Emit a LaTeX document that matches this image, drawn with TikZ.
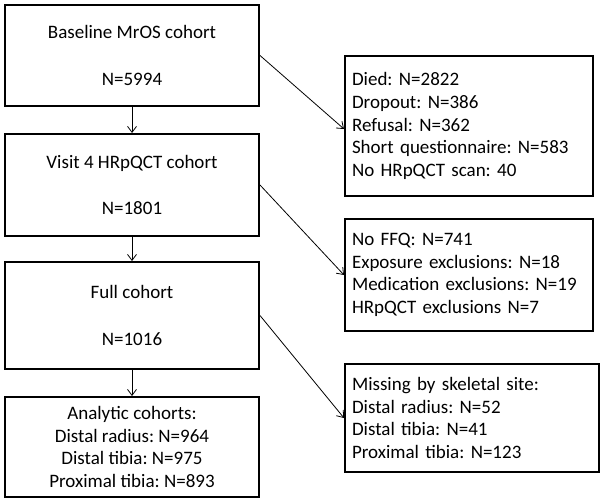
\documentclass[tikz,border=0pt]{standalone}
\usepackage{fontspec}
\setmainfont{Carlito}
\frenchspacing
\usetikzlibrary{arrows.meta}
\begin{document}
\begin{tikzpicture}[x=1pt,y=-1pt,
  every node/.style={font=\fontsize{19pt}{22.7pt}\selectfont},
  lbox/.style={draw, line width=2pt, minimum width=254pt, align=center, inner sep=0pt},
  rbox/.style={draw, line width=2pt, align=left, inner xsep=7pt, inner ysep=0pt, anchor=west},
  conn/.style={line width=0.8pt, -{Straight Barb[length=6pt,width=9pt]}}]
\useasboundingbox (0,0) rectangle (604,503);
\node[lbox, minimum height=101pt] (b1) at (132,55.5) {\frenchspacing Baseline MrOS cohort\\[24pt]N=5994};
\node[lbox, minimum height=102pt] (b2) at (132,185) {\frenchspacing Visit 4 HRpQCT cohort\\[24pt]N=1801};
\node[lbox, minimum height=107pt] (b3) at (132,315.5) {\frenchspacing Full cohort\\[24pt]N=1016};
\node[lbox, minimum height=100pt] (b4) at (132,447) {\frenchspacing Analytic cohorts:\\Distal radius: N=964\\Distal tibia: N=975\\Proximal tibia: N=893};
\node[rbox, minimum height=140pt, text width=234pt] (r1) at (344,126) {\frenchspacing Died: N=2822\\Dropout: N=386\\Refusal: N=362\\Short questionnaire: N=583\\No HRpQCT scan: 40};
\node[rbox, minimum height=112pt, text width=234pt] (r2) at (344,275) {\frenchspacing No FFQ: N=741\\Exposure exclusions: N=18\\Medication exclusions: N=19\\HRpQCT exclusions N=7};
\node[rbox, minimum height=108pt, text width=240pt] (r3) at (344,418) {\frenchspacing Missing by skeletal site:\\Distal radius: N=52\\Distal tibia: N=41\\Proximal tibia: N=123};
\draw[conn] (b1.south) -- (b2.north);
\draw[conn] (b2.south) -- (b3.north);
\draw[conn] (b3.south) -- (b4.north);
\draw[conn] (b1.east) -- ([yshift=-3pt]r1.west);
\draw[conn] (b2.east) -- (r2.west);
\draw[conn] (b3.east) -- (r3.west);
\end{tikzpicture}
\end{document}
